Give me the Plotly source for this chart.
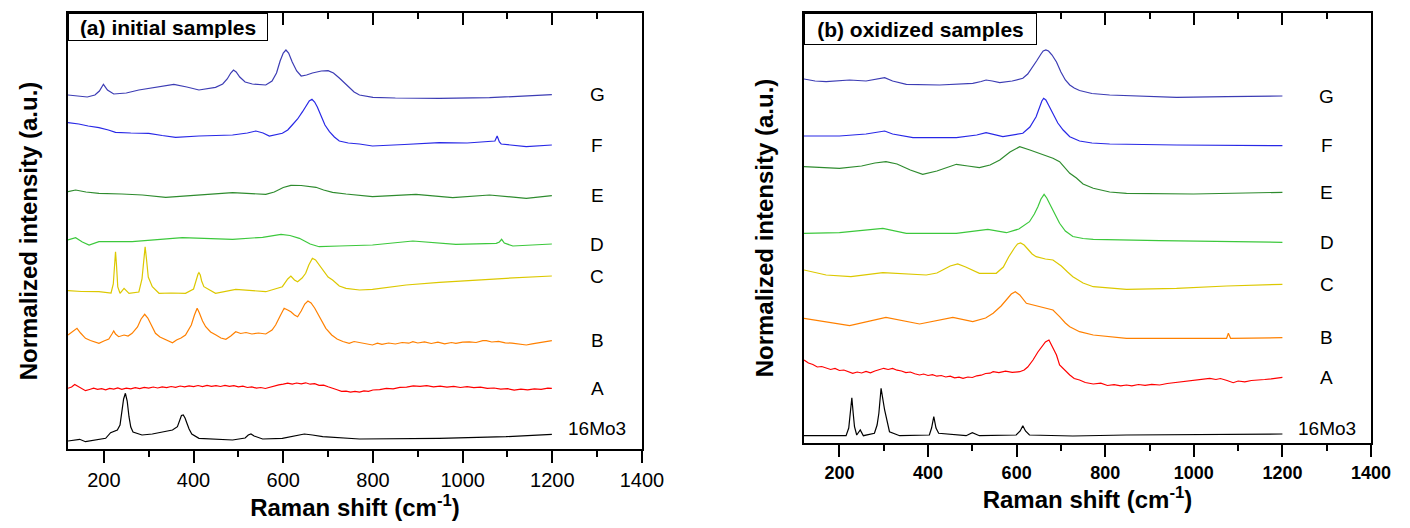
import plotly.graph_objects as go

# ---- (a) initial samples: Raman shift (cm-1) / stacked normalized intensity (a.u.)
a_G_x = [120, 140, 163, 180, 190, 199, 208, 222, 250, 278, 320, 356, 385, 412, 449, 465, 475, 483, 489, 495, 503, 515, 531, 561, 575, 585, 593, 600, 606, 612, 620, 630, 640, 652, 665, 685, 700, 712, 725, 736, 747, 758, 770, 785, 800, 850, 948, 1060, 1130, 1199]
a_G_y = [354, 353, 352, 354, 358, 364.7, 359, 355, 356, 359, 362, 364.7, 362, 359, 361.7, 365, 370, 376, 379, 377, 372, 367, 365, 364, 368, 376, 388, 396, 399, 396, 387, 378, 373, 374, 376, 378, 378.3, 376, 371, 366, 361, 357, 354, 352.5, 351.7, 351, 350.7, 351.3, 352.5, 354.3]

a_F_x = [120, 144, 165, 189, 210, 226, 260, 300, 330, 360, 412, 487, 520, 539, 555, 569, 598, 610, 620, 632, 643, 652, 658, 664, 670, 676, 684, 693, 703, 714, 725, 745, 770, 799, 870, 948, 1010, 1067, 1072, 1077, 1082, 1086, 1142, 1199]
a_F_y = [326.3, 325, 323, 321.3, 319, 316.7, 316, 315.7, 313.5, 311.7, 313, 314, 316, 318, 316, 313, 315.7, 319, 324, 330, 337.3, 344, 348, 349.7, 347, 342, 333, 324, 317.3, 312, 308, 306, 305, 303, 304.5, 306.3, 306, 307.3, 308, 313, 307, 305, 302.3, 304]

a_E_x = [120, 137, 160, 189, 240, 286, 338, 412, 487, 561, 580, 600, 617, 640, 660, 673, 690, 710, 740, 770, 799, 896, 978, 1060, 1142, 1199]
a_E_y = [257.3, 259, 257, 255.7, 255, 254, 251.7, 254, 256.3, 254.7, 257, 261.5, 263.7, 263.5, 262.5, 261.7, 259, 256.7, 255, 254, 252.3, 254.7, 251.3, 254, 250.7, 253.3]

a_D_x = [120, 137, 152, 167, 189, 263, 375, 487, 554, 575, 595, 615, 636, 660, 680, 725, 770, 799, 889, 985, 1075, 1082, 1087, 1093, 1112, 1199]
a_D_y = [209, 211.3, 207, 204, 207.3, 207.3, 211.3, 209.7, 211.7, 213.5, 214.7, 213.5, 210.7, 205, 202.3, 203, 204, 204, 208, 204.7, 205.7, 207, 209.7, 206, 203, 205]

a_C_x = [120, 150, 189, 216, 221, 224, 226, 228, 231, 236, 245, 256, 278, 285, 289, 292, 295, 299, 308, 323, 350, 382, 400, 406, 410, 412, 415, 418, 423, 449, 494, 561, 598, 610, 617, 625, 632, 642, 650, 657, 665, 672, 680, 688, 700, 710, 725, 740, 770, 799, 874, 948, 1023, 1097, 1199]
a_C_y = [158.3, 157.5, 157.3, 156, 165, 185, 197.3, 185, 162, 155.7, 160.7, 155.7, 157, 170, 190, 202.3, 190, 172, 162.3, 155.7, 156, 155.7, 160, 170, 175, 176.3, 174, 168, 162.3, 155.7, 159.7, 157.3, 162.3, 170, 173, 169, 167.3, 171, 175.7, 184, 190.7, 189, 184, 179, 172, 169, 163, 160.7, 159, 159.7, 164, 166.7, 169, 170.7, 173]

a_B_x = [120, 132, 140, 148, 159, 170, 180, 189, 200, 211, 218, 222, 226, 233, 245, 254, 263, 275, 283, 291, 298, 306, 315, 325, 335, 344, 353, 362, 372, 382, 395, 402, 408, 413, 420, 427, 438, 450, 461, 472, 483, 494, 505, 517, 530, 545, 561, 575, 583, 593, 602, 610, 617, 625, 632, 640, 648, 655, 662, 670, 680, 695, 708, 720, 733, 747, 758, 770, 780, 790, 799, 810, 820, 835, 850, 865, 880, 889, 900, 915, 930, 945, 960, 975, 985, 1000, 1015, 1030, 1045, 1053, 1065, 1080, 1095, 1110, 1125, 1142, 1155, 1170, 1185, 1199]
a_B_y = [114, 118, 120.7, 116, 110.7, 108.5, 106.8, 105.7, 108, 110, 115, 118, 115, 112.3, 114, 113, 115.7, 122, 130, 134.7, 131, 123, 115.7, 112, 110, 108, 106.3, 109, 111, 114, 124, 134, 140.7, 136, 128, 122.3, 117, 114, 111, 109.7, 113, 117.3, 115.5, 116.5, 115, 116, 115, 119, 124, 133, 140.7, 139, 137.3, 134, 132.3, 138, 145, 148, 146, 141, 133, 120.7, 114, 110, 107.5, 105.7, 107.5, 106.5, 105, 104.5, 104, 105.8, 104.6, 106, 105, 106.5, 105.8, 107.3, 106, 107.2, 105.5, 106.8, 105.2, 106.5, 105.7, 106.8, 107.2, 106.5, 108.3, 108.3, 107, 107.6, 106.2, 105.8, 104.6, 104, 105.2, 106, 107, 108.3]

a_A_x = [120, 128, 135, 142, 150, 159, 168, 177, 186, 195, 204, 213, 222, 231, 240, 250, 260, 270, 280, 290, 300, 310, 320, 330, 340, 350, 360, 370, 380, 390, 400, 410, 420, 430, 440, 450, 460, 470, 480, 490, 500, 510, 520, 530, 540, 550, 560, 570, 580, 590, 600, 610, 620, 630, 640, 650, 660, 670, 680, 690, 700, 710, 720, 730, 740, 750, 760, 770, 780, 790, 800, 815, 830, 845, 860, 875, 890, 905, 920, 935, 950, 965, 980, 995, 1010, 1025, 1040, 1055, 1070, 1085, 1100, 1115, 1130, 1145, 1160, 1175, 1190, 1199]
a_A_y = [60.7, 62, 64.5, 62.5, 60, 58.3, 59.5, 60.8, 59.6, 60.4, 59.2, 60.6, 59.8, 61, 59.7, 60.9, 60.2, 61.3, 60.4, 61.6, 60.8, 62, 61, 62.2, 61.4, 62.5, 61.6, 63, 62.1, 63.2, 62.3, 63.5, 62.4, 63.6, 62.7, 63.4, 62.5, 63.7, 62.6, 63.3, 62.2, 62.8, 61.5, 62.2, 60.9, 61.5, 60.5, 61.8, 62.6, 64.2, 64.8, 65.9, 64.9, 66, 65.1, 66.2, 64.8, 65.3, 63.7, 63.9, 62.2, 61, 59.2, 57.6, 57.9, 56.8, 57.6, 56.9, 58.1, 57.7, 59, 59.4, 60.6, 60.2, 61.6, 61.9, 63.2, 62.6, 63.3, 62.2, 62.9, 61.8, 62.6, 61.5, 62.3, 61.4, 61.9, 60.6, 61, 59.8, 60.3, 58.9, 59.8, 59.1, 60.2, 59.6, 60.8, 60.7]

a_M_x = [120, 146, 159, 204, 215, 230, 236, 240, 244, 248, 252, 256, 260, 265, 285, 308, 338, 353, 364, 369, 373, 377, 381, 385, 390, 396, 412, 487, 515, 522, 528, 535, 554, 598, 625, 647, 665, 688, 770, 948, 1097, 1199]
a_M_y = [8, 9.7, 7.3, 10.7, 16.3, 19, 24, 35, 50, 55.7, 48, 32.3, 22, 17, 14, 15, 17.3, 19, 22.3, 28, 33.5, 34, 31, 26, 20, 15, 10.7, 9, 11, 14, 15, 13, 10, 10.7, 13, 15, 14, 12.3, 10, 10.7, 12.3, 14.7]

# ---- (b) oxidized samples
b_G_x = [120, 145, 170, 200, 223, 260, 280, 302, 320, 351, 426, 501, 520, 531, 545, 562, 590, 614, 625, 637, 645, 655, 660, 666, 672, 680, 690, 700, 710, 720, 730, 742, 770, 810, 961, 1074, 1200]
b_G_y = [364, 362, 361.3, 362, 363, 362, 363.5, 365.3, 362, 358.7, 358, 359.7, 361.5, 363, 362, 360.3, 362, 364.7, 369, 376.3, 382, 389, 392, 393, 392, 388, 381, 371, 363, 358, 355, 352.5, 349.5, 348, 345.7, 346.3, 347]

b_F_x = [120, 200, 260, 285, 302, 320, 366, 464, 510, 531, 550, 569, 614, 630, 644, 652, 657, 661, 666, 672, 682, 693, 705, 720, 742, 770, 810, 961, 1200]
b_F_y = [307, 307, 309, 311, 312, 309, 305.3, 305.3, 308, 310.3, 308.5, 306.3, 309.7, 316, 326.3, 337, 342, 344.7, 343, 338, 329.7, 320, 313, 306.3, 302, 300, 299, 298, 297.3]

b_E_x = [120, 160, 200, 250, 280, 305, 330, 360, 388, 420, 464, 490, 516, 540, 562, 585, 607, 630, 652, 670, 682, 697, 710, 720, 735, 750, 773, 810, 848, 999, 1200]
b_E_y = [276.3, 275.5, 274.7, 277, 280, 281.3, 279, 273, 268.7, 272, 278.7, 277, 275.3, 278, 283, 291, 296.3, 293, 289.7, 287, 284.7, 281.3, 275, 269.7, 265, 259, 254.7, 251, 249.7, 249, 250.7]

b_D_x = [120, 200, 298, 351, 464, 535, 577, 605, 629, 640, 648, 655, 662, 668, 678, 688, 697, 710, 727, 750, 773, 923, 1200]
b_D_y = [209.7, 210.3, 214.7, 209.7, 209.7, 213.7, 210.3, 214, 221.3, 229, 236.3, 244, 248.7, 245, 236.3, 227, 219.7, 212, 206.5, 204.5, 203.7, 202.3, 200.7]

b_C_x = [120, 170, 226, 298, 396, 420, 433, 450, 467, 485, 516, 554, 570, 582, 595, 602, 609, 617, 625, 635, 644, 655, 665, 682, 701, 715, 727, 750, 773, 848, 961, 1074, 1200]
b_C_y = [173, 168, 166.3, 170.3, 168, 170, 173, 177, 179, 176, 169.7, 169.7, 176, 186, 195, 199, 200, 198, 194, 189, 186.3, 185, 184, 183, 177, 171, 166.3, 160, 156.3, 153.7, 154.7, 157, 158.7]

b_B_x = [120, 223, 305, 381, 456, 501, 530, 547, 565, 577, 588, 597, 607, 622, 652, 682, 697, 710, 720, 742, 773, 848, 999, 1074, 1078, 1083, 1200]
b_B_y = [124.7, 117.3, 125.7, 119, 125.7, 121.3, 125, 129.7, 137, 143, 149, 151.3, 148, 139.7, 136.3, 133, 126.3, 120, 116.3, 111.3, 108, 104.7, 104.7, 104.7, 109.7, 104.7, 105.3]

b_A_x = [120, 130, 140, 150, 160, 170, 180, 190, 200, 210, 220, 230, 240, 250, 260, 270, 280, 290, 300, 310, 320, 330, 340, 350, 360, 370, 381, 390, 400, 410, 420, 430, 440, 450, 460, 470, 479, 490, 500, 510, 520, 530, 540, 547, 560, 575, 590, 607, 617, 625, 637, 648, 656, 665, 673, 680, 690, 697, 710, 720, 730, 742, 755, 773, 790, 805, 820, 835, 848, 860, 875, 890, 905, 923, 940, 955, 970, 985, 1000, 1015, 1036, 1050, 1060, 1075, 1089, 1100, 1115, 1130, 1145, 1160, 1175, 1190, 1200]
b_A_y = [83, 80, 78.5, 76, 76.5, 74.7, 73.5, 74.5, 72.5, 73, 71, 69.7, 71, 70, 71.5, 70.2, 72, 73.2, 74.7, 73.5, 74.5, 72.8, 72, 70.4, 71, 69.2, 68, 69, 67.5, 68.4, 66.8, 67.5, 66, 66.8, 65.2, 65.8, 64.7, 66, 65.5, 67.2, 67.8, 69.5, 69.8, 71.3, 70.4, 71.8, 70.6, 71.3, 73, 76, 83, 91, 96.3, 101, 103, 97, 88, 78, 72, 68, 64.5, 63, 60.5, 59, 59.8, 57.5, 58.4, 57.2, 58, 57.1, 58.5, 57.6, 58.7, 58, 59.5, 60.3, 61.5, 62, 62.8, 63.2, 64.7, 63.5, 64.5, 62.5, 60.3, 62, 61.2, 62.5, 62.8, 63.5, 64.2, 64.8, 65.7]

b_M_x = [120, 215, 221, 224, 228, 231, 234, 239, 247, 254, 279, 285, 289, 294, 298, 302, 313, 336, 403, 408, 413, 418, 424, 486, 500, 516, 599, 608, 614, 620, 629, 727, 848, 1074, 1200]
b_M_y = [7.3, 7.3, 15, 30, 45.3, 30, 16.3, 8, 13, 7.3, 9.7, 18, 29.7, 54.7, 45, 33, 11.3, 7.3, 8, 15, 26.3, 15, 9.7, 7.3, 10.3, 7.3, 8, 12, 17.3, 12, 8, 7, 8, 9, 9]

names = ["G", "F", "E", "D", "C", "B", "A", "16Mo3"]
colors = ["#3c3cb4", "#2828e6", "#2e8b2e", "#3cc83c", "#dcc800", "#ff8000", "#ff0000", "#000000"]

panel_a = [(a_G_x, a_G_y), (a_F_x, a_F_y), (a_E_x, a_E_y), (a_D_x, a_D_y),
           (a_C_x, a_C_y), (a_B_x, a_B_y), (a_A_x, a_A_y), (a_M_x, a_M_y)]
panel_b = [(b_G_x, b_G_y), (b_F_x, b_F_y), (b_E_x, b_E_y), (b_D_x, b_D_y),
           (b_C_x, b_C_y), (b_B_x, b_B_y), (b_A_x, b_A_y), (b_M_x, b_M_y)]

FONT = "Arial, Liberation Sans, sans-serif"
W, H = 1410, 528

fig = go.Figure()
annotations = []

for panel, xa, ya in [(panel_a, "x", "y"), (panel_b, "x2", "y2")]:
    for name, col, (xs, ys) in zip(names, colors, panel):
        fig.add_trace(go.Scatter(x=xs, y=ys, mode="lines", name=name,
                                 line=dict(color=col, width=1.2),
                                 xaxis=xa, yaxis=ya, showlegend=False))
        # sample label on the right, level with the end of the spectrum
        annotations.append(dict(x=1300, y=ys[-1], xref=xa, yref=ya, text=name,
                                showarrow=False, xanchor="center", yanchor="middle",
                                yshift=6 if name == "16Mo3" else 0,
                                font=dict(family=FONT, size=19, color="black")))

# empty traces so that the inner top tick axes get drawn
fig.add_trace(go.Scatter(x=[None], y=[None], xaxis="x3", yaxis="y", showlegend=False, hoverinfo="skip"))
fig.add_trace(go.Scatter(x=[None], y=[None], xaxis="x4", yaxis="y2", showlegend=False, hoverinfo="skip"))


def bottom_axis(domain, anchor, bold):
    return dict(domain=domain, anchor=anchor, range=[120, 1400], tick0=0, dtick=200,
                automargin=False,
                ticks="outside", ticklen=12, tickwidth=1.5, tickcolor="black",
                minor=dict(dtick=100, ticks="outside", ticklen=6, tickwidth=1.5, tickcolor="black"),
                showline=True, linewidth=2, linecolor="black", mirror=True,
                showgrid=False, zeroline=False,
                tickfont=dict(family=FONT, size=18 if bold else 20, color="black",
                              weight="bold" if bold else "normal"),
                title=dict(text="<b>Raman shift (cm<sup>-1</sup>)</b>", standoff=8,
                           font=dict(family=FONT, size=24, color="black")))


def top_axis(over, anchor):
    return dict(overlaying=over, anchor=anchor, side="top", range=[120, 1400], tick0=0, dtick=200,
                automargin=False,
                ticks="inside", ticklen=12, tickwidth=1.5, tickcolor="black",
                minor=dict(dtick=100, ticks="inside", ticklen=6, tickwidth=1.5, tickcolor="black"),
                showticklabels=False, showline=False, showgrid=False, zeroline=False)


def left_axis(domain, anchor, top):
    return dict(domain=domain, anchor=anchor, range=[0, top], showticklabels=False, ticks="",
                automargin=False,
                showline=True, linewidth=2, linecolor="black", mirror=True,
                showgrid=False, zeroline=False,
                title=dict(text="<b>Normalized intensity (a.u.)</b>", standoff=22,
                           font=dict(family=FONT, size=24, color="black")))


xa_dom = [68 / W, 642 / W]
xb_dom = [804 / W, 1371 / W]

fig.update_layout(
    width=W, height=H, autosize=False,
    margin=dict(l=0, r=0, t=13, b=79),
    paper_bgcolor="white", plot_bgcolor="white",
    xaxis=bottom_axis(xa_dom, "y", False),
    yaxis=left_axis([0, 1], "x", 436),
    xaxis2=bottom_axis(xb_dom, "y2", True),
    yaxis2=left_axis([6 / 436, 1], "x2", 430),
    xaxis3=top_axis("x", "y"),
    xaxis4=top_axis("x2", "y2"),
)

annotations.append(dict(x=xa_dom[0], y=1, xref="paper", yref="paper", xanchor="left", yanchor="top",
                        text="<b>(a) initial samples</b>", showarrow=False, align="center",
                        width=194, height=22, borderpad=2, bordercolor="black", borderwidth=1,
                        bgcolor="white", font=dict(family=FONT, size=21, color="black")))
annotations.append(dict(x=xb_dom[0], y=1, xref="paper", yref="paper", xanchor="left", yanchor="top",
                        text="<b>(b) oxidized samples</b>", showarrow=False, align="center",
                        width=227, height=26, borderpad=2, bordercolor="black", borderwidth=1,
                        bgcolor="white", font=dict(family=FONT, size=21, color="black")))

fig.update_layout(annotations=annotations)

# no page margin / scrollbars, fixed size, no modebar
page_fix = ("document.body.style.margin='0px';"
            "document.body.style.overflow='hidden';"
            "document.documentElement.style.overflow='hidden';")
fig.write_html("out.html", post_script=page_fix,
               config={"responsive": False, "displayModeBar": False})
